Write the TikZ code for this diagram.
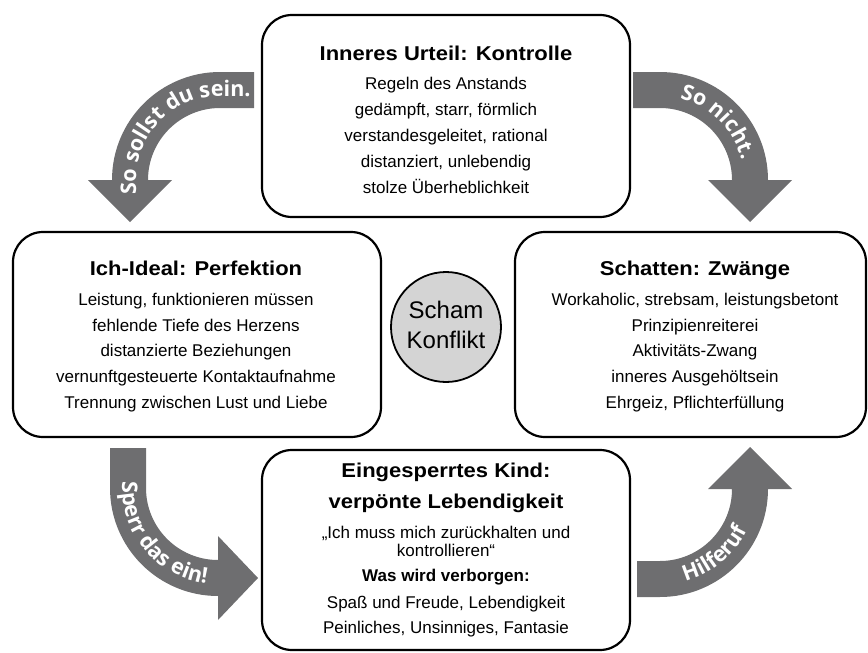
\documentclass[tikz,border=0pt]{standalone}
\usepackage{fontspec}
\setmainfont{Liberation Sans}
\newfontfamily\ttlfont{Liberation Sans}[FakeStretch=1.1]
\newfontfamily\arrfont{Open Sans}
\usetikzlibrary{decorations.text}
\definecolor{arrgray}{RGB}{110,110,112}
\definecolor{discgray}{RGB}{212,212,212}

\begin{document}
\begin{tikzpicture}[x=1pt,y=-1pt,
  panel/.style={draw=black, line width=2.2pt, rounded corners=30pt, fill=white, inner sep=0pt},
  ttl/.style={font=\ttlfont\bfseries\fontsize{20}{24}\selectfont, anchor=base, inner sep=0pt},
  bodyline/.style={font=\fontsize{17}{20}\selectfont, anchor=base, inner sep=0pt},
  boldline/.style={font=\bfseries\fontsize{17}{20}\selectfont, anchor=base, inner sep=0pt},
  bendtext/.style={decorate, decoration={text along path, text align=center, text color=white}}
]
\useasboundingbox (0,0) rectangle (868,653);

% ---------- panels ----------
\node[panel, minimum width=368pt, minimum height=202pt] (urteil) at (446,116) {};
\node[panel, minimum width=368pt, minimum height=205pt] (ideal) at (197,334.5) {};
\node[panel, minimum width=351pt, minimum height=205pt] (schatten) at (690.5,334.5) {};
\node[panel, minimum width=368pt, minimum height=200pt] (kind) at (446,550) {};

% ---------- central disc ----------
\node[circle, draw=black, line width=1.8pt, fill=discgray, minimum size=110pt, inner sep=0pt] (scham) at (446,327) {};
\node[font=\fontsize{24}{28}\selectfont, anchor=base, inner sep=0pt] (scham1) at (446,318) {Scham};
\node[font=\fontsize{24}{28}\selectfont, anchor=base, inner sep=0pt] (scham2) at (446,348) {Konflikt};

% ---------- top panel text ----------
\node[ttl] (u0) at (446,60) {Inneres Urteil: Kontrolle};
\node[bodyline] (u1) at (446,89) {Regeln des Anstands};
\node[bodyline] (u2) at (446,115) {gedämpft, starr, förmlich};
\node[bodyline] (u3) at (446,141) {verstandesgeleitet, rational};
\node[bodyline] (u4) at (446,167) {distanziert, unlebendig};
\node[bodyline] (u5) at (446,193) {stolze Überheblichkeit};

% ---------- left panel text ----------
\node[ttl] (i0) at (196,275) {Ich-Ideal: Perfektion};
\node[bodyline] (i1) at (196,305) {Leistung, funktionieren müssen};
\node[bodyline] (i2) at (196,331) {fehlende Tiefe des Herzens};
\node[bodyline] (i3) at (196,356) {distanzierte Beziehungen};
\node[bodyline] (i4) at (196,382) {vernunftgesteuerte Kontaktaufnahme};
\node[bodyline] (i5) at (196,408) {Trennung zwischen Lust und Liebe};

% ---------- right panel text ----------
\node[ttl] (s0) at (695,275) {Schatten: Zwänge};
\node[bodyline] (s1) at (695,305) {Workaholic, strebsam, leistungsbetont};
\node[bodyline] (s2) at (695,331) {Prinzipienreiterei};
\node[bodyline] (s3) at (695,356) {Aktivitäts-Zwang};
\node[bodyline] (s4) at (695,382) {inneres Ausgehöltsein};
\node[bodyline] (s5) at (695,408) {Ehrgeiz, Pflichterfüllung};

% ---------- bottom panel text ----------
\node[ttl] (k0) at (446,477) {Eingesperrtes Kind:};
\node[ttl] (k1) at (446,508) {verpönte Lebendigkeit};
\node[bodyline] (k2) at (446,538) {„Ich muss mich zurückhalten und};
\node[bodyline] (k3) at (446,556) {kontrollieren“};
\node[boldline] (k4) at (446,581) {Was wird verborgen:};
\node[bodyline] (k5) at (446,608) {Spaß und Freude, Lebendigkeit};
\node[bodyline] (k6) at (446,633) {Peinliches, Unsinniges, Fantasie};

% ---------- curved arrows ----------
\coordinate (c1) at (220,180);
\coordinate (c2) at (660,180);
\coordinate (c3) at (218,488);
\coordinate (c4) at (660,489);

% top left: from the top panel down to the left panel
\begin{scope}[shift={(c1)}]
  \fill[arrgray] (-108,0) arc[start angle=180, end angle=270, radius=108]
    -- (34,-108) -- (34,-72) -- (0,-72)
    arc[start angle=270, end angle=180, radius=72]
    -- (-48,0) -- (-90,42) -- (-132,0) -- cycle;
  \path[bendtext, decoration={text={|\arrfont\bfseries\fontsize{21.5}{24}\selectfont|So sollst du sein.}}]
    (-84,24) -- (-84,0) arc[start angle=180, end angle=270, radius=84] -- (40,-84);
\end{scope}

% top right: from the top panel down to the right panel
\begin{scope}[shift={(c2)}]
  \fill[arrgray] (-27,-108) -- (0,-108) arc[start angle=270, end angle=360, radius=108]
    -- (132,0) -- (90,42) -- (48,0) -- (72,0)
    arc[start angle=0, end angle=-90, radius=72]
    -- (-27,-72) -- cycle;
  \path[bendtext, decoration={text={|\arrfont\bfseries\fontsize{21.5}{24}\selectfont|So nicht.}}]
    (0,-84) arc[start angle=270, end angle=360, radius=84];
\end{scope}

% bottom left: from the left panel into the bottom panel
\begin{scope}[shift={(c3)}]
  \fill[arrgray] (-108,-40) -- (-108,0) arc[start angle=180, end angle=90, radius=108]
    -- (0,132) -- (40,90) -- (0,48) -- (0,72)
    arc[start angle=90, end angle=180, radius=72]
    -- (-72,-40) -- cycle;
  \path[bendtext, decoration={text={|\arrfont\bfseries\fontsize{21.5}{24}\selectfont|Sperr das ein!}}]
    (-96,-18) -- (-96,0) arc[start angle=180, end angle=90, radius=96];
\end{scope}

% bottom right: from the bottom panel up to the right panel
\begin{scope}[shift={(c4)}]
  \fill[arrgray] (-23,108) -- (0,108) arc[start angle=90, end angle=0, radius=108]
    -- (132,0) -- (90,-42) -- (48,0) -- (72,0)
    arc[start angle=0, end angle=90, radius=72]
    -- (-23,72) -- cycle;
  \path[bendtext, decoration={text={|\arrfont\bfseries\fontsize{21.5}{24}\selectfont|Hilferuf}}]
    (-16.67,94.54) arc[start angle=100, end angle=0, radius=96];
\end{scope}
\end{tikzpicture}
\end{document}
